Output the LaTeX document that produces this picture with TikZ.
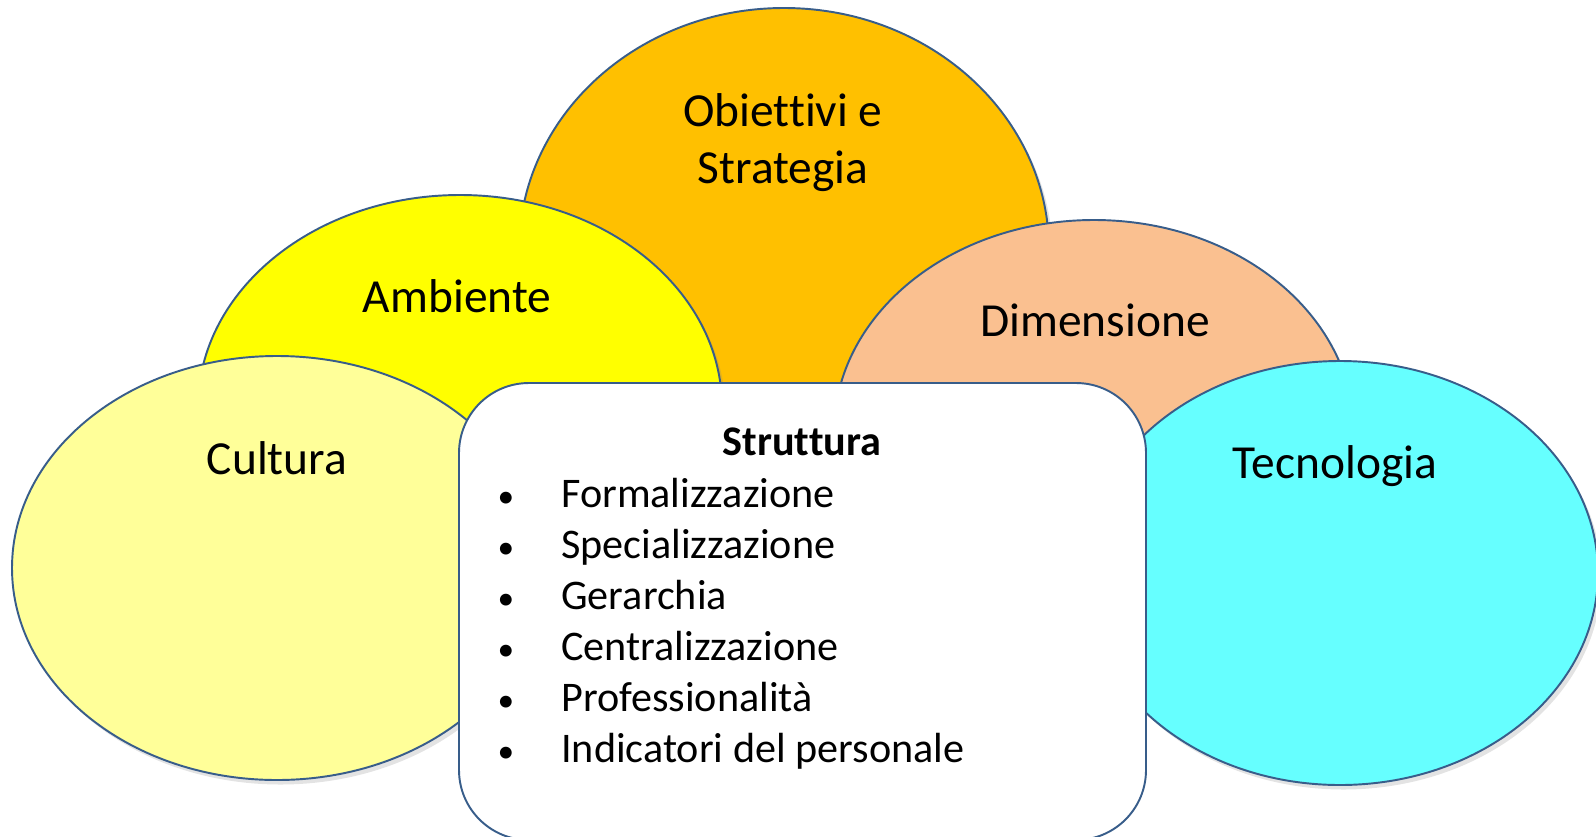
\documentclass[tikz,border=0pt]{standalone}
\usepackage{fontspec}
\setmainfont{Carlito}[RawFeature=-liga]
\usepackage{tikz}
\usetikzlibrary{shapes,shadows}
\definecolor{bordo}{HTML}{385D8A}
\definecolor{obiettivi}{HTML}{FFC000}
\definecolor{ambiente}{HTML}{FFFF00}
\definecolor{cultura}{HTML}{FFFF99}
\definecolor{dimensione}{HTML}{FAC090}
\definecolor{tecnologia}{HTML}{66FFFF}
\tikzset{cerchio/.style={draw=bordo, line width=1.1pt, drop shadow={opacity=0.22, shadow xshift=0.07cm, shadow yshift=-0.09cm}}}
\tikzset{titolo/.style={font=\fontsize{27}{33}\selectfont, anchor=base, inner sep=0pt}}
\tikzset{voce/.style={font=\fontsize{24}{29}\selectfont, anchor=base west, inner sep=0pt}}

\begin{document}
\begin{tikzpicture}[line join=round,x=0.02cm,y=-0.02cm]
	\useasboundingbox (0,0) rectangle (1596,836);
	% ellissi, dalla piu' lontana
	\draw [cerchio, fill=obiettivi] (784,250) ellipse [x radius=265, y radius=242];
	\draw [cerchio, fill=ambiente] (460,407) ellipse [x radius=262, y radius=212];
	\draw [cerchio, fill=dimensione] (1094,432) ellipse [x radius=260, y radius=212];
	\draw [cerchio, fill=cultura] (277,568) ellipse [x radius=265, y radius=212];
	\draw [cerchio, fill=tecnologia] (1340,573) ellipse [x radius=258, y radius=212];
	\draw [black] (783,126) node[titolo] (obiettivi1) {Obiettivi e};
	\draw [black] (783,183) node[titolo] (obiettivi2) {Strategia};
	\draw [black] (457,312) node[titolo] (ambiente) {Ambiente};
	\draw [black] (1095,336) node[titolo] (dimensione) {Dimensione};
	\draw [black] (277,474) node[titolo] (cultura) {Cultura};
	\draw [black] (1335,478) node[titolo] (tecnologia) {Tecnologia};
	% riquadro centrale
	\draw [draw=bordo, line width=1.1pt, fill=white, rounded corners=1.4cm] (459,383) rectangle (1146,840);
	\draw [black] (802,455) node[voce, anchor=base] (struttura) {\bfseries Struttura};
	\foreach \testo [count=\i] in {Formalizzazione, Specializzazione, Gerarchia, Centralizzazione, Professionalità, Indicatori del personale}
	{
		\pgfmathsetmacro{\ypos}{507+51*(\i-1)}
		\draw [black] (506,\ypos) node[voce, anchor=base, font=\fontsize{19}{24}\selectfont] (punto\i) {•};
		\draw [black] (561,\ypos) node[voce] (voce\i) {\testo};
	}
\end{tikzpicture}
\end{document}
